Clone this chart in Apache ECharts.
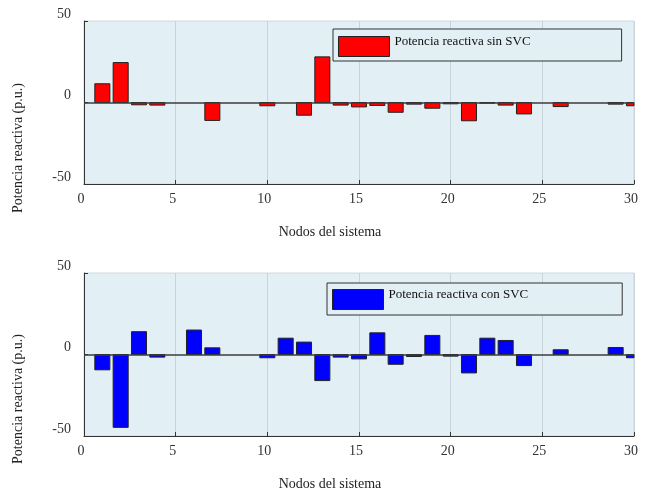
<!DOCTYPE html>
<html>
<head>
<meta charset="utf-8">
<script src="https://cdn.jsdelivr.net/npm/echarts@6/dist/echarts.min.js"></script>
<style>html,body{margin:0;padding:0;background:#fff}#c{width:645px;height:491px}</style>
</head>
<body>
<div id="c"></div>
<script>
var nodes = [1,2,3,4,5,6,7,8,9,10,11,12,13,14,15,16,17,18,19,20,21,22,23,24,25,26,27,28,29,30];
var sinSVC = [11.5,24.5,-1.4,-1.6,0,0,-11,0,0,-2,0,-7.8,28,-1.6,-2.7,-1.8,-6,-1,-3.5,-0.8,-11.2,-0.4,-1.6,-7,0,-2.5,0,0,-1,-2];
var conSVC = [-9.4,-44.7,14,-1.6,0,15,4.1,0,0,-2,10,7.6,-16,-1.6,-2.7,13.3,-6,-1.2,11.7,-1,-11.3,10,8.6,-6.8,0,2.9,0,0,4.3,-2];
var xTicks = [0,5,10,15,20,25,30];
var yTicks = [-50,0,50];
var nameSin = 'Potencia reactiva sin SVC';
var nameCon = 'Potencia reactiva con SVC';
var xTitle = 'Nodos del sistema';
var yTitle = 'Potencia reactiva (p.u.)';

var FONT = '"Liberation Serif", "Times New Roman", serif';
var BG = '#e2eff5';
var BAR_HALF = 0.41; // half bar width in node units
function pairs(v){ return nodes.map(function(n,i){ return [n, v[i]]; }); }

function xAxis(gi){
  return {
    type:'value', gridIndex:gi, min:xTicks[0], max:xTicks[xTicks.length-1], interval:5,
    axisLine:{show:true, onZero:false, lineStyle:{color:'#333', width:1}},
    axisTick:{show:true, inside:true, length:4, lineStyle:{color:'#333'}},
    axisLabel:{color:'#333', fontFamily:FONT, fontSize:14, margin:8, padding:[0,6,0,0]},
    splitLine:{show:true, lineStyle:{color:'#c9d4da', width:1}}
  };
}
function yAxis(gi){
  return {
    type:'value', gridIndex:gi, min:yTicks[0], max:yTicks[yTicks.length-1], interval:50,
    axisLine:{show:true, lineStyle:{color:'#333', width:1}},
    axisTick:{show:true, inside:true, length:4, lineStyle:{color:'#333'}},
    axisLabel:{color:'#333', fontFamily:FONT, fontSize:14, margin:13, verticalAlign:'bottom'},
    splitLine:{show:false}
  };
}
function barSeries(name, data, color, gi){
  return {
    type:'custom', name:name, xAxisIndex:gi, yAxisIndex:gi, data:pairs(data),
    encode:{x:0, y:1},
    itemStyle:{color:color},
    renderItem:function(params, api){
      var x = api.value(0), v = api.value(1);
      if (v === 0) return null;
      var p1 = api.coord([x - BAR_HALF, Math.max(v,0)]);
      var p2 = api.coord([x + BAR_HALF, Math.min(v,0)]);
      var shape = echarts.graphic.clipRectByRect(
        {x:p1[0], y:p1[1], width:p2[0]-p1[0], height:p2[1]-p1[1]},
        {x:params.coordSys.x, y:params.coordSys.y, width:params.coordSys.width, height:params.coordSys.height}
      );
      return shape && {type:'rect', shape:shape, style:{fill:color, stroke:'#222', lineWidth:1}};
    },
    markLine:{silent:true, symbol:'none', label:{show:false},
      lineStyle:{color:'#3c3c3c', width:1.5, type:'solid'},
      data:[{yAxis:0}]},
    z:2
  };
}
var legendText = {fontFamily:FONT, fontSize:13, color:'#111',
  rich:{t:{fontFamily:FONT, fontSize:13, color:'#111', padding:[0,0,10,0]}}};
function legendFmt(n){ return '{t|' + n + '}'; }

var chart = echarts.init(document.getElementById('c'), null, {renderer:'canvas'});
chart.setOption({
  animation:false,
  backgroundColor:'#fff',
  grid:[
    {left:84, top:21, width:550, height:163, show:true, backgroundColor:BG, borderColor:'#cfd8dd', borderWidth:1},
    {left:84, top:273, width:550, height:163, show:true, backgroundColor:BG, borderColor:'#cfd8dd', borderWidth:1}
  ],
  xAxis:[xAxis(0), xAxis(1)],
  yAxis:[yAxis(0), yAxis(1)],
  legend:[
    {data:[{name:nameSin, itemStyle:{color:'#ff0000', borderColor:'#222', borderWidth:1}}], left:333, top:29, orient:'horizontal', itemWidth:51, itemHeight:20, itemGap:0,
     backgroundColor:BG, borderColor:'#333', borderWidth:1, padding:[6,91,4,5],
     formatter:legendFmt, textStyle:legendText,
     selectedMode:false, icon:'rect'},
    {data:[{name:nameCon, itemStyle:{color:'#0000ff', borderColor:'#222', borderWidth:1}}], left:327, top:283, orient:'horizontal', itemWidth:51, itemHeight:20, itemGap:0,
     backgroundColor:BG, borderColor:'#333', borderWidth:1, padding:[5,94,5,5],
     formatter:legendFmt, textStyle:legendText,
     selectedMode:false, icon:'rect'}
  ],
  title:[
    {text:xTitle, left:325, top:220, textAlign:'center', textStyle:{fontFamily:FONT, fontSize:14, fontWeight:'normal', color:'#222'}},
    {text:xTitle, left:325, top:472, textAlign:'center', textStyle:{fontFamily:FONT, fontSize:14, fontWeight:'normal', color:'#222'}}
  ],
  graphic:[
    {type:'text', x:18, y:148, rotation:Math.PI/2, style:{text:yTitle, font:'14px ' + FONT, fill:'#222', textAlign:'center', textVerticalAlign:'middle'}},
    {type:'text', x:18, y:399, rotation:Math.PI/2, style:{text:yTitle, font:'14px ' + FONT, fill:'#222', textAlign:'center', textVerticalAlign:'middle'}}
  ],
  series:[
    barSeries(nameSin, sinSVC, '#ff0000', 0),
    barSeries(nameCon, conSVC, '#0000ff', 1)
  ]
});
</script>
</body>
</html>
